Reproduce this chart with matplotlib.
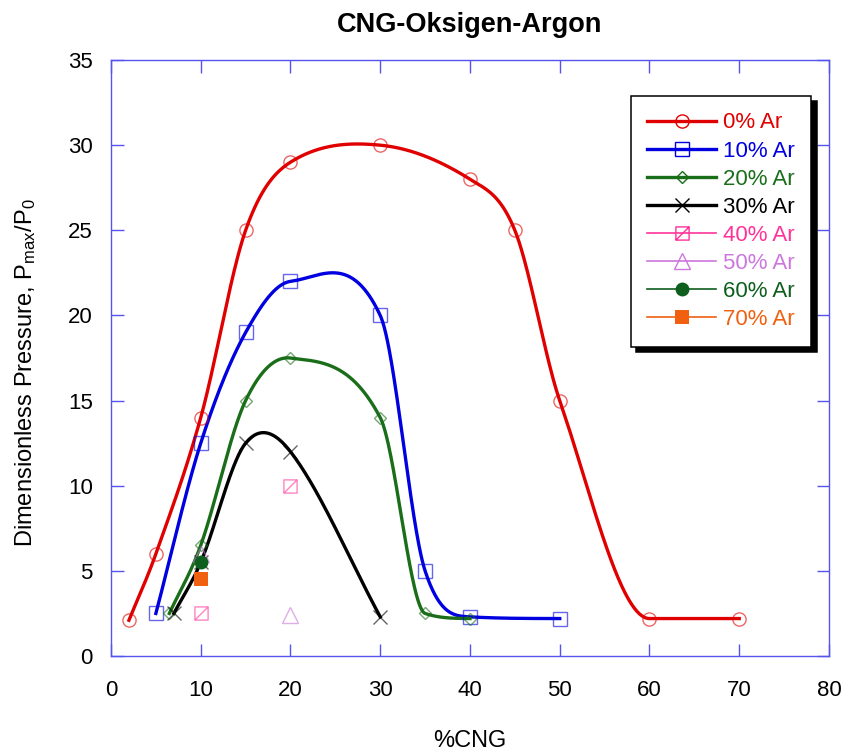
import numpy as np
import matplotlib.pyplot as plt
from matplotlib.path import Path

# %CNG and dimensionless pressure Pmax/P0 for each argon fraction
x_0 = [2, 5, 10, 15, 20, 30, 40, 45, 50, 60, 70]
y_0 = [2.1, 6, 14, 25, 29, 30, 28, 25, 15, 2.2, 2.2]
x_10 = [5, 10, 15, 20, 30, 35, 40, 50]
y_10 = [2.5, 12.5, 19, 22, 20, 5, 2.3, 2.2]
x_20 = [6.5, 10, 15, 20, 30, 35, 40]
y_20 = [2.5, 6.5, 15, 17.5, 14, 2.5, 2.2]
x_30 = [7, 10, 15, 20, 30]
y_30 = [2.5, 5.5, 12.5, 12, 2.3]
x_40 = [10, 20]
y_40 = [2.5, 10]
x_50 = [10, 20]
y_50 = [6, 2.4]
x_60 = [10]
y_60 = [5.5]
x_70 = [10]
y_70 = [4.5]

labels = ['0% Ar', '10% Ar', '20% Ar', '30% Ar', '40% Ar', '50% Ar', '60% Ar', '70% Ar']
colors = ['#e00000', '#0000e0', '#1a6e1a', '#000000', '#ff3399', '#cc77dd', '#0e5e1e', '#f06010']


def smooth_curve(x, y, n=500):
    # cubic hermite, catmull-rom slopes, monotone limiting away from extrema
    x = np.asarray(x, float)
    y = np.asarray(y, float)
    d = np.diff(y) / np.diff(x)
    m = np.empty_like(y)
    m[0], m[-1] = d[0], d[-1]
    m[1:-1] = (y[2:] - y[:-2]) / (x[2:] - x[:-2])
    for k in range(len(d)):
        if d[k] == 0:
            m[k] = m[k + 1] = 0
    for k in range(len(d)):
        if d[k] == 0:
            continue
        a, b = m[k] / d[k], m[k + 1] / d[k]
        if a > 0 and b > 0 and a * a + b * b > 9:
            t = 3 / np.sqrt(a * a + b * b)
            m[k], m[k + 1] = t * a * d[k], t * b * d[k]
    xs = np.linspace(x[0], x[-1], n)
    i = np.clip(np.searchsorted(x, xs) - 1, 0, len(x) - 2)
    h = x[i + 1] - x[i]
    t = (xs - x[i]) / h
    h00 = 2 * t**3 - 3 * t**2 + 1
    h10 = t**3 - 2 * t**2 + t
    h01 = -2 * t**3 + 3 * t**2
    h11 = t**3 - t**2
    return xs, h00 * y[i] + h10 * h * m[i] + h01 * y[i + 1] + h11 * h * m[i + 1]


# square with a diagonal slash
slash_square = Path([(-1, -1), (1, -1), (1, 1), (-1, 1), (-1, -1), (-1, -1), (1, 1)],
                    [Path.MOVETO, Path.LINETO, Path.LINETO, Path.LINETO, Path.CLOSEPOLY,
                     Path.MOVETO, Path.LINETO])

plt.rcParams['font.family'] = ['Liberation Sans', 'DejaVu Sans']
plt.rcParams['mathtext.fontset'] = 'custom'
plt.rcParams['mathtext.rm'] = 'Liberation Sans'
plt.rcParams['mathtext.it'] = 'Liberation Sans'

fig = plt.figure(figsize=(8.44, 7.55), dpi=100)
ax = fig.add_axes([0.1315, 0.1311, 0.8507, 0.7894])

series = [(x_0, y_0, 'o', 9.5), (x_10, y_10, 's', 9.5), (x_20, y_20, 'D', 6.5),
          (x_30, y_30, 'x', 10), (x_40, y_40, slash_square, 9.5),
          (x_50, y_50, '^', 11), (x_60, y_60, 'o', 10), (x_70, y_70, 's', 9.5)]

handles = []
for i, (xs, ys, mk, ms) in enumerate(series):
    col = colors[i]
    filled = i >= 6
    smooth = i < 4
    if smooth:
        sx, sy = smooth_curve(xs, ys)
        ax.plot(sx, sy, color=col, lw=2.4, zorder=3)
    ax.plot(xs, ys, ls='none', marker=mk, ms=ms,
            mfc=col if filled else 'none', mec=col, mew=0 if filled else 1.0,
            alpha=1 if filled else 0.6, zorder=4)
    h, = ax.plot([], [], color=col, lw=2.4 if smooth else 1.2, marker=mk, ms=ms,
                 mfc=col if filled else 'none', mec=col, mew=0 if filled else 1.0,
                 label=labels[i])
    handles.append(h)

ax.set_xlim(0, 80)
ax.set_ylim(0, 35)
ax.set_xticks(np.arange(0, 81, 10))
ax.set_yticks(np.arange(0, 36, 5))
ax.tick_params(direction='in', length=9, width=1, color='#5555ee', labelsize=16,
               top=True, right=True)
ax.tick_params(axis='x', pad=17)
ax.tick_params(axis='y', pad=13)
for sp in ax.spines.values():
    sp.set_color('#5555ee')
    sp.set_linewidth(1.0)

ax.set_title('CNG-Oksigen-Argon', fontsize=19.5, fontweight='bold', pad=20)
ax.set_xlabel('%CNG', fontsize=17)
ax.set_ylabel('Dimensionless Pressure, P$_{max}$/P$_0$', fontsize=17)
ax.xaxis.set_label_coords(0.5, -0.1235)
ax.yaxis.set_label_coords(-0.101, 0.476)

leg = ax.legend(handles=handles, loc='upper left', bbox_to_anchor=(0.724, 0.94),
                fontsize=16, labelcolor='linecolor', frameon=True, fancybox=False,
                shadow={'color': 'black', 'alpha': 1, 'ox': 4, 'oy': -4},
                handlelength=3.1, labelspacing=0.32, borderpad=0.75,
                handletextpad=0.3, borderaxespad=0)
leg.get_frame().set_edgecolor('black')
leg.get_frame().set_linewidth(1.1)

fig.savefig('out.png', dpi=100)
